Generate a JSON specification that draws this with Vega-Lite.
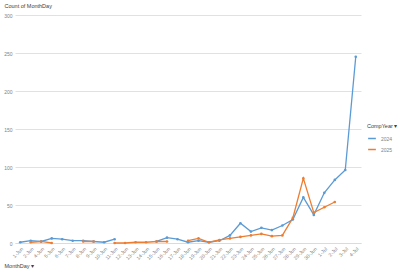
{
  "$schema": "https://vega.github.io/schema/vega-lite/v6.json",
  "autosize": "none",
  "width": 346,
  "height": 228,
  "padding": {"left": 15, "top": 15, "right": 39, "bottom": 30},
  "background": "white",
  "config": {
    "font": "Liberation Sans",
    "view": {"stroke": null},
    "axis": {"labelColor": "#595959", "titleColor": "#404040", "labelFont": "Liberation Sans", "titleFont": "Liberation Sans"}
  },
  "data": {
    "values": [
      {"day": "1-Jun", "year": "2024", "count": 1},
      {"day": "2-Jun", "year": "2024", "count": 3},
      {"day": "4-Jun", "year": "2024", "count": 2},
      {"day": "5-Jun", "year": "2024", "count": 6},
      {"day": "6-Jun", "year": "2024", "count": 5},
      {"day": "7-Jun", "year": "2024", "count": 3},
      {"day": "8-Jun", "year": "2024", "count": 3},
      {"day": "9-Jun", "year": "2024", "count": 2},
      {"day": "10-Jun", "year": "2024", "count": 1},
      {"day": "11-Jun", "year": "2024", "count": 5},
      {"day": "12-Jun", "year": "2024", "count": null},
      {"day": "13-Jun", "year": "2024", "count": null},
      {"day": "14-Jun", "year": "2024", "count": null},
      {"day": "15-Jun", "year": "2024", "count": 2},
      {"day": "16-Jun", "year": "2024", "count": 7},
      {"day": "17-Jun", "year": "2024", "count": 5},
      {"day": "18-Jun", "year": "2024", "count": 1},
      {"day": "19-Jun", "year": "2024", "count": 3},
      {"day": "20-Jun", "year": "2024", "count": 1},
      {"day": "21-Jun", "year": "2024", "count": 3},
      {"day": "22-Jun", "year": "2024", "count": 10},
      {"day": "23-Jun", "year": "2024", "count": 26},
      {"day": "24-Jun", "year": "2024", "count": 15},
      {"day": "25-Jun", "year": "2024", "count": 20},
      {"day": "26-Jun", "year": "2024", "count": 17},
      {"day": "27-Jun", "year": "2024", "count": 23},
      {"day": "28-Jun", "year": "2024", "count": 31},
      {"day": "29-Jun", "year": "2024", "count": 60},
      {"day": "30-Jun", "year": "2024", "count": 37},
      {"day": "1-Jul", "year": "2024", "count": 66},
      {"day": "2-Jul", "year": "2024", "count": 83},
      {"day": "3-Jul", "year": "2024", "count": 96},
      {"day": "4-Jul", "year": "2024", "count": 245},
      {"day": "1-Jun", "year": "2025", "count": null},
      {"day": "2-Jun", "year": "2025", "count": 1},
      {"day": "4-Jun", "year": "2025", "count": 2},
      {"day": "5-Jun", "year": "2025", "count": 0},
      {"day": "6-Jun", "year": "2025", "count": null},
      {"day": "7-Jun", "year": "2025", "count": null},
      {"day": "8-Jun", "year": "2025", "count": 2},
      {"day": "9-Jun", "year": "2025", "count": 2},
      {"day": "10-Jun", "year": "2025", "count": null},
      {"day": "11-Jun", "year": "2025", "count": 0},
      {"day": "12-Jun", "year": "2025", "count": 0},
      {"day": "13-Jun", "year": "2025", "count": 1},
      {"day": "14-Jun", "year": "2025", "count": 1},
      {"day": "15-Jun", "year": "2025", "count": 2},
      {"day": "16-Jun", "year": "2025", "count": 2},
      {"day": "17-Jun", "year": "2025", "count": null},
      {"day": "18-Jun", "year": "2025", "count": 3},
      {"day": "19-Jun", "year": "2025", "count": 6},
      {"day": "20-Jun", "year": "2025", "count": 1},
      {"day": "21-Jun", "year": "2025", "count": 4},
      {"day": "22-Jun", "year": "2025", "count": 6},
      {"day": "23-Jun", "year": "2025", "count": 8},
      {"day": "24-Jun", "year": "2025", "count": 10},
      {"day": "25-Jun", "year": "2025", "count": 12},
      {"day": "26-Jun", "year": "2025", "count": 9},
      {"day": "27-Jun", "year": "2025", "count": 10},
      {"day": "28-Jun", "year": "2025", "count": 33},
      {"day": "29-Jun", "year": "2025", "count": 85},
      {"day": "30-Jun", "year": "2025", "count": 40},
      {"day": "1-Jul", "year": "2025", "count": 47},
      {"day": "2-Jul", "year": "2025", "count": 54},
      {"day": "3-Jul", "year": "2025", "count": null},
      {"day": "4-Jul", "year": "2025", "count": null}
    ]
  },
  "mark": {
    "type": "line",
    "strokeWidth": 1.3,
    "invalid": "break-paths-show-domains",
    "point": {"filled": true, "size": 7}
  },
  "encoding": {
    "x": {
      "field": "day",
      "type": "nominal",
      "scale": {
        "domain": ["1-Jun","2-Jun","4-Jun","5-Jun","6-Jun","7-Jun","8-Jun","9-Jun","10-Jun","11-Jun","12-Jun","13-Jun","14-Jun","15-Jun","16-Jun","17-Jun","18-Jun","19-Jun","20-Jun","21-Jun","22-Jun","23-Jun","24-Jun","25-Jun","26-Jun","27-Jun","28-Jun","29-Jun","30-Jun","1-Jul","2-Jul","3-Jul","4-Jul"],
        "padding": 0.5
      },
      "axis": {
        "title": "MonthDay ▾",
        "titleFontSize": 5.5,
        "titleFontWeight": "normal",
        "titleX": -11,
        "titleY": 20,
        "titleAlign": "left",
        "titleBaseline": "top",
        "labelAngle": -45,
        "labelFontSize": 5,
        "labelColor": "#7f7f7f",
        "labelPadding": 3,
        "ticks": false,
        "domainColor": "#d9d9d9",
        "domainWidth": 0.8
      }
    },
    "y": {
      "field": "count",
      "type": "quantitative",
      "scale": {"domain": [0, 300]},
      "axis": {
        "values": [0, 50, 100, 150, 200, 250, 300],
        "title": "Count of MonthDay",
        "titleAngle": 0,
        "titleFontSize": 5.5,
        "titleFontWeight": "normal",
        "titleX": -11,
        "titleY": -12,
        "titleAlign": "left",
        "titleBaseline": "top",
        "labelFontSize": 5,
        "labelColor": "#7f7f7f",
        "labelPadding": 3,
        "ticks": false,
        "domain": false,
        "gridColor": "#d9d9d9",
        "gridWidth": 0.8
      }
    },
    "color": {
      "field": "year",
      "type": "nominal",
      "scale": {"domain": ["2024", "2025"], "range": ["#5B9BD5", "#ED7D31"]},
      "legend": {
        "title": "CompYear ▾",
        "titleFontSize": 5.5,
        "titleFontWeight": "normal",
        "titleColor": "#404040",
        "labelFontSize": 5,
        "labelColor": "#7f7f7f",
        "orient": "none",
        "legendX": 352,
        "legendY": 109,
        "symbolType": "stroke",
        "symbolStrokeWidth": 1.5,
        "symbolSize": 60,
        "rowPadding": 3,
        "titlePadding": 4
      }
    }
  }
}
